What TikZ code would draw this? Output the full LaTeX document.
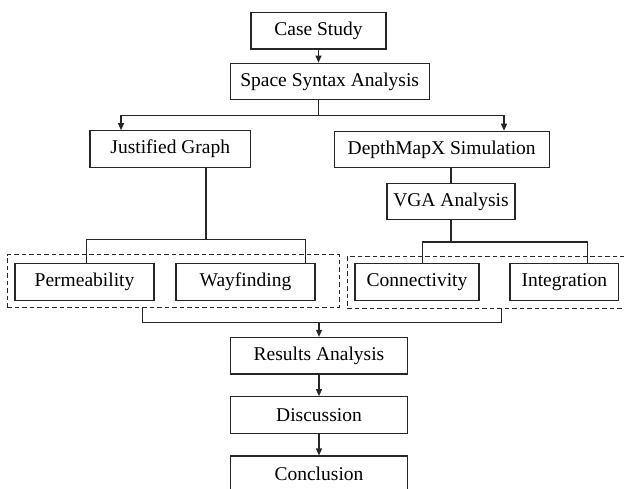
\documentclass[tikz,border=0pt]{standalone}
\usepackage{fontspec}
\setmainfont{Liberation Serif}
\usetikzlibrary{arrows.meta}
\begin{document}
\begin{tikzpicture}[x=1pt,y=-1pt,
  box/.style={draw=black!85, line width=1.1pt, inner sep=0pt, minimum height=36.6pt,
              font=\fontsize{19.5}{22}\selectfont},
  arr/.style={-{Triangle[length=7pt,width=6pt]}, line width=1.1pt, black!85},
  ln/.style={line width=1.1pt, black!85},
  grp/.style={draw=black!85, dash pattern=on 4.5pt off 3pt, line width=1pt, inner sep=0pt}]
\useasboundingbox (0,0) rectangle (624,489);
\clip (0,0) rectangle (624,489);

% dashed groups
\node[grp, minimum width=332pt, minimum height=52.6pt] (gl) at (173.3,281) {};
\node[grp, minimum width=292.6pt, minimum height=52.3pt] (gr) at (493.6,282.2) {};

% boxes
\node[box, minimum width=135pt] (cs) at (318.5,30.7) {Case Study};
\node[box, minimum width=199pt] (ssa) at (329.7,81.5) {Space Syntax Analysis};
\node[box, minimum width=160.7pt] (jg) at (170.3,149) {Justified Graph};
\node[box, minimum width=215pt] (dm) at (441.7,149.5) {DepthMapX Simulation};
\node[box, minimum width=128pt] (vga) at (451,201.5) {VGA Analysis};
\node[box, minimum width=139pt, minimum height=37pt] (perm) at (84.5,281.8) {Permeability};
\node[box, minimum width=139pt, minimum height=37pt] (way) at (245.5,281.8) {Wayfinding};
\node[box, minimum width=124pt, minimum height=37pt] (conn) at (417,281.8) {Connectivity};
\node[box, minimum width=108.7pt, minimum height=37pt] (integ) at (564.35,281.8) {Integration};
\node[box, minimum width=177pt] (res) at (319,355.7) {Results Analysis};
\node[box, minimum width=177pt] (disc) at (319,415) {Discussion};
\node[box, minimum width=177pt] (conc) at (319,474.3) {Conclusion};

% coordinates
\coordinate (split) at (318.5,115.3);
\coordinate (jgs) at (206,239.3);
\coordinate (jl) at (86.7,239.3);
\coordinate (jr) at (305.7,239.3);
\coordinate (vs) at (451,242);
\coordinate (vl) at (422.3,242);
\coordinate (vr) at (587.7,242);
\coordinate (ml) at (142.7,322.7);
\coordinate (mr) at (501.7,322.7);

% connectors
\draw[arr] (cs.south) -- (cs.south |- ssa.north);
\draw[ln] (ssa.south -| split) -- (split);
\draw[arr] (split) -| (jg.north -| 121,0);
\draw[arr] (split) -| (dm.north -| 504,0);

\draw[ln] (jg.south -| jgs) -- (jgs);
\draw[ln] (perm.north -| jl) -- (jl) -- (jr) -- (way.north -| jr);

\draw[ln] (dm.south -| vga.north) -- (vga.north);
\draw[ln] (vga.south) -- (vs);
\draw[ln] (conn.north -| vl) -- (vl) -- (vr) -- (integ.north -| vr);

\draw[ln] (gl.south -| ml) -- (ml) -- (mr) -- (gr.south -| mr);
\draw[arr] (res.north |- ml) -- (res.north);
\draw[arr] (res.south) -- (disc.north);
\draw[arr] (disc.south) -- (conc.north);
\end{tikzpicture}
\end{document}
